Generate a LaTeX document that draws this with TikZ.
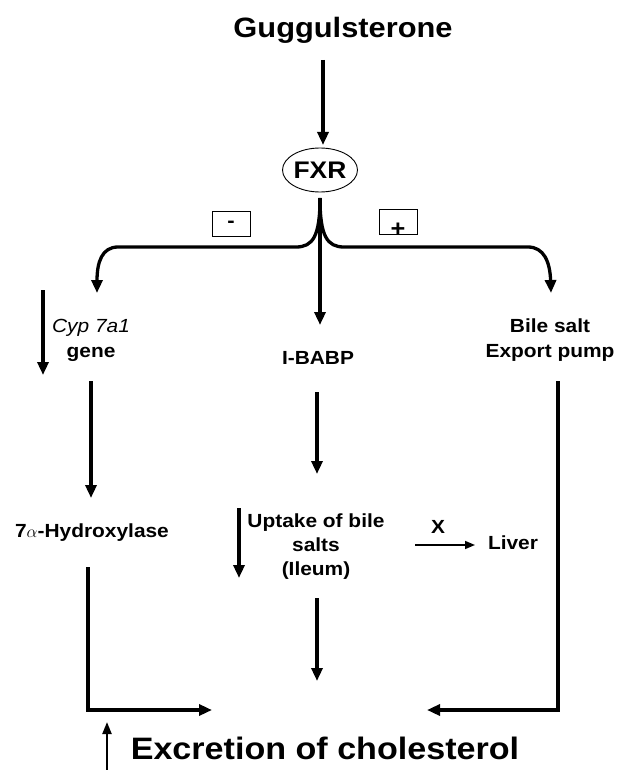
\documentclass[tikz,border=0pt]{standalone}
\usepackage{fontspec}
\setmainfont[FakeStretch=1.1]{Liberation Sans}
\usetikzlibrary{arrows.meta,shapes.geometric}
\begin{document}
\begin{tikzpicture}[x=1pt,y=-1pt,
  lbl/.style={font=\fontsize{19}{25}\selectfont\bfseries, align=center, inner sep=0pt},
  arr/.style={line width=3.3pt, -{Triangle[length=13pt,width=11pt]}},
  thinarr/.style={line width=1.5pt, -{Triangle[length=10pt,width=8pt]}},
  signbox/.style={draw, line width=0.9pt, minimum width=38pt, minimum height=25pt, inner sep=0pt}]
\useasboundingbox (0,0) rectangle (621,770);

% nodes
\node[font=\fontsize{28}{30}\selectfont\bfseries, inner sep=0pt] (gug) at (343,30) {Guggulsterone};
\node[ellipse, draw, line width=0.9pt, minimum width=75pt, minimum height=44pt, inner sep=0pt,
      font=\fontsize{24}{26}\selectfont\bfseries] (fxr) at (320,170) {FXR};
\node[signbox] (minus) at (231,224) {};
\node[font=\fontsize{20}{22}\selectfont\bfseries, inner sep=0pt] (minussign) at (minus.center) {-};
\node[signbox] (plus) at (398,222) {};
\node[font=\fontsize{23}{24}\selectfont\bfseries, inner sep=0pt] (plussign) at ([yshift=-8pt]plus.center) {+};

\node[lbl] (cyp) at (91,340) {{\mdseries\itshape Cyp 7a1}\\gene};
\node[lbl] (ibabp) at (318,358) {I-BABP};
\node[lbl] (bsep) at (550,340) {Bile salt\\Export pump};
\node[lbl] (hyd) at (92,533) {7$\alpha$-Hydroxylase};
\node[lbl, font=\fontsize{19}{24}\selectfont\bfseries] (upt) at (316,547) {Uptake of bile\\salts\\(Ileum)};
\node[lbl] (xlab) at (438,527) {X};
\node[lbl] (liver) at (513,543) {Liver};
\node[font=\fontsize{31}{33}\selectfont\bfseries, inner sep=0pt] (exc) at (325,748) {Excretion of cholesterol};

% coordinates for free ends
\coordinate (gugout) at (323,60);
\coordinate (fxrin) at (323,145);
\coordinate (stem) at (320,198);
\coordinate (cypin) at (97,293);
\coordinate (ibabpin) at (320,325);
\coordinate (bsepin) at (551,293);
\coordinate (dl1) at (43,290);
\coordinate (dl2) at (43,375);
\coordinate (cypout) at (91,381);
\coordinate (hydin) at (91,498);
\coordinate (hydout) at (88,567);
\coordinate (excL) at (212,710);
\coordinate (ibabpout) at (317,392);
\coordinate (uptin) at (317,474);
\coordinate (du1) at (239,508);
\coordinate (du2) at (239,578);
\coordinate (uptout) at (317,598);
\coordinate (excC) at (317,681);
\coordinate (xa1) at (415,545);
\coordinate (xa2) at (475,545);
\coordinate (bsepout) at (558,381);
\coordinate (excR) at (427,710);
\coordinate (up1) at (107,770);
\coordinate (up2) at (107,722);

% connectors
\draw[arr] (gugout) -- (fxrin);
\draw[arr] (stem) -- (ibabpin);
\draw[arr] (stem) .. controls (320,236) and (313,247) .. (296,247) -- (118,247)
   .. controls (102,247) and (97,262) .. (cypin);
\draw[arr] (stem) .. controls (320,236) and (327,247) .. (344,247) -- (528,247)
   .. controls (544,247) and (550,262) .. (bsepin);
\draw[arr] (dl1) -- (dl2);
\draw[arr] (cypout) -- (hydin);
\draw[arr] (hydout) |- (excL);
\draw[arr] (ibabpout) -- (uptin);
\draw[arr] (du1) -- (du2);
\draw[arr] (uptout) -- (excC);
\draw[thinarr] (xa1) -- (xa2);
\draw[arr] (bsepout) |- (excR);
\draw[line width=2.2pt, -{Triangle[length=12pt,width=9pt]}] (up1) -- (up2);
\end{tikzpicture}
\end{document}
